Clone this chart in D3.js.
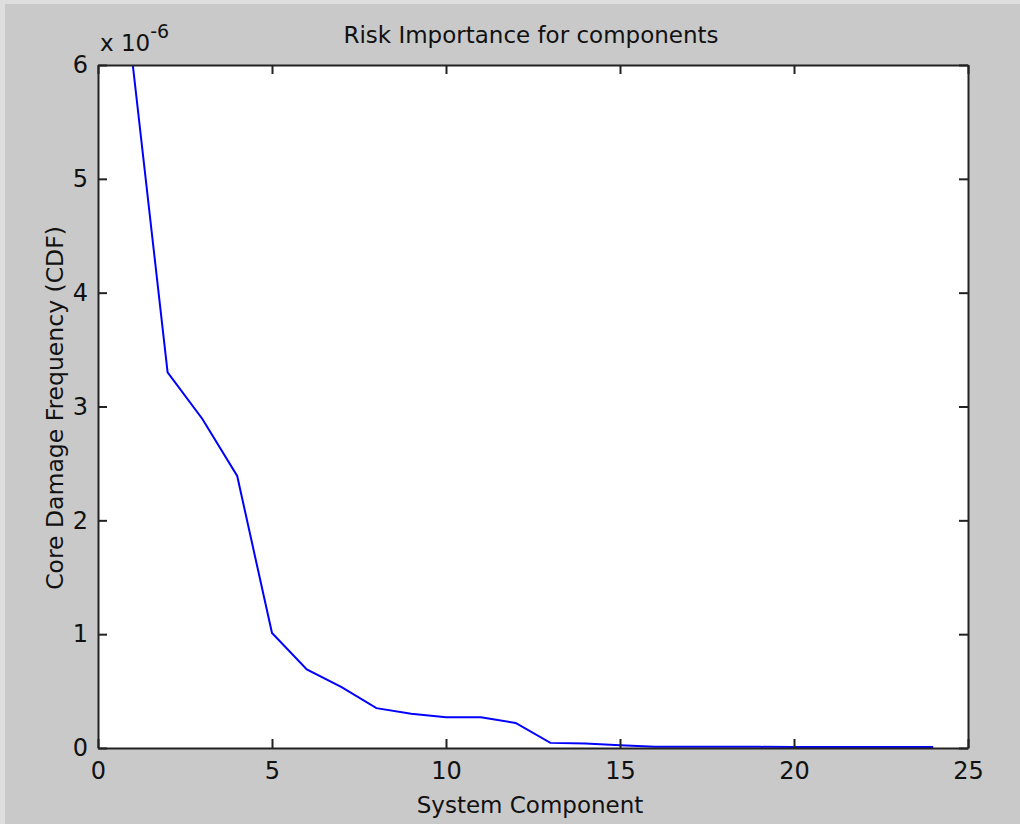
<!DOCTYPE html>
<meta charset="utf-8">
<style>
    body { margin: 0; background: #c9c9c9; }
    svg { display: block; }
    text { font-family: "DejaVu Sans", "Liberation Sans", sans-serif; fill: #111; }
    .axis path, .axis line { stroke: #222; }
</style>
<svg width="1020" height="824"></svg>
<script src="https://d3js.org/d3.v7.min.js"></script>
<script>

    // component index and core damage frequency (x 1e-6)
    var components = [1, 2, 3, 4, 5, 6, 7, 8, 9, 10, 11, 12, 13, 14, 15, 16, 17, 18, 19, 20, 21, 22, 23, 24];
    var cdf = [6.0, 3.30, 2.89, 2.39, 1.01, 0.69, 0.535, 0.35, 0.30, 0.27, 0.27, 0.22,
               0.045, 0.04, 0.025, 0.012, 0.011, 0.01, 0.01, 0.009, 0.009, 0.008, 0.008, 0.008];
    var xTicks = [0, 5, 10, 15, 20, 25];
    var yTicks = [0, 1, 2, 3, 4, 5, 6];

    var svg = d3.select("svg"),
        margin = {top: 65, right: 52, bottom: 76, left: 98},
        width = +svg.attr("width") - margin.left - margin.right,
        height = +svg.attr("height") - margin.top - margin.bottom;

    // light bevel strips on top/left edge of the figure
    svg.append("rect").attr("width", 1020).attr("height", 824).attr("fill", "#c9c9c9");
    svg.append("rect").attr("width", 1020).attr("height", 4).attr("fill", "#dedede");
    svg.append("rect").attr("width", 5).attr("height", 824).attr("fill", "#dedede");

    var x = d3.scaleLinear().domain([0, 25]).range([0, width]),
        y = d3.scaleLinear().domain([0, 6]).range([height, 0]);

    var g = svg.append("g")
        .attr("transform", "translate(" + margin.left + "," + margin.top + ")");

    g.append("rect")
        .attr("width", width)
        .attr("height", height)
        .attr("fill", "#fff");

    var data = components.map(function(c, i) { return {c: c, v: cdf[i]}; });

    var line = d3.line()
        .x(function(d) { return x(d.c); })
        .y(function(d) { return y(d.v); });

    g.append("path")
        .datum(data)
        .attr("fill", "none")
        .attr("stroke", "#0000ff")
        .attr("stroke-width", 2)
        .attr("d", line);

    function styleAxis(s) {
        s.select(".domain").attr("stroke-width", 2);
        s.selectAll("line").attr("stroke-width", 2);
        s.selectAll("text").attr("font-size", 24).attr("fill", "#111");
        s.attr("font-family", null);
    }

    // axes with inside ticks, box mirrored on top/right
    g.append("g")
        .attr("class", "axis")
        .attr("transform", "translate(0," + height + ")")
        .call(d3.axisBottom(x).tickValues(xTicks).tickFormat(d3.format("d")).tickSizeInner(-9).tickSizeOuter(0).tickPadding(14))
        .call(styleAxis);

    g.append("g")
        .attr("class", "axis")
        .call(d3.axisLeft(y).tickValues(yTicks).tickFormat(d3.format("d")).tickSizeInner(-9).tickSizeOuter(0).tickPadding(10))
        .call(styleAxis);

    g.append("g")
        .attr("class", "axis")
        .call(d3.axisTop(x).tickValues(xTicks).tickSizeInner(-9).tickSizeOuter(0).tickFormat(""))
        .call(styleAxis);

    g.append("g")
        .attr("class", "axis")
        .attr("transform", "translate(" + width + ",0)")
        .call(d3.axisRight(y).tickValues(yTicks).tickSizeInner(-9).tickSizeOuter(0).tickFormat(""))
        .call(styleAxis);

    // labels
    svg.append("text")
        .attr("x", 531)
        .attr("y", 43)
        .attr("text-anchor", "middle")
        .attr("font-size", 23)
        .text("Risk Importance for components");

    svg.append("text")
        .attr("x", 530)
        .attr("y", 813)
        .attr("text-anchor", "middle")
        .attr("font-size", 23)
        .text("System Component");

    svg.append("text")
        .attr("transform", "translate(63,408) rotate(-90)")
        .attr("text-anchor", "middle")
        .attr("font-size", 23.5)
        .text("Core Damage Frequency (CDF)");

    var ex = svg.append("text")
        .attr("x", 100)
        .attr("y", 51)
        .attr("font-size", 23);
    ex.append("tspan").text("x 10");
    ex.append("tspan").attr("dy", -13).attr("font-size", 19).text("-6");

</script>
